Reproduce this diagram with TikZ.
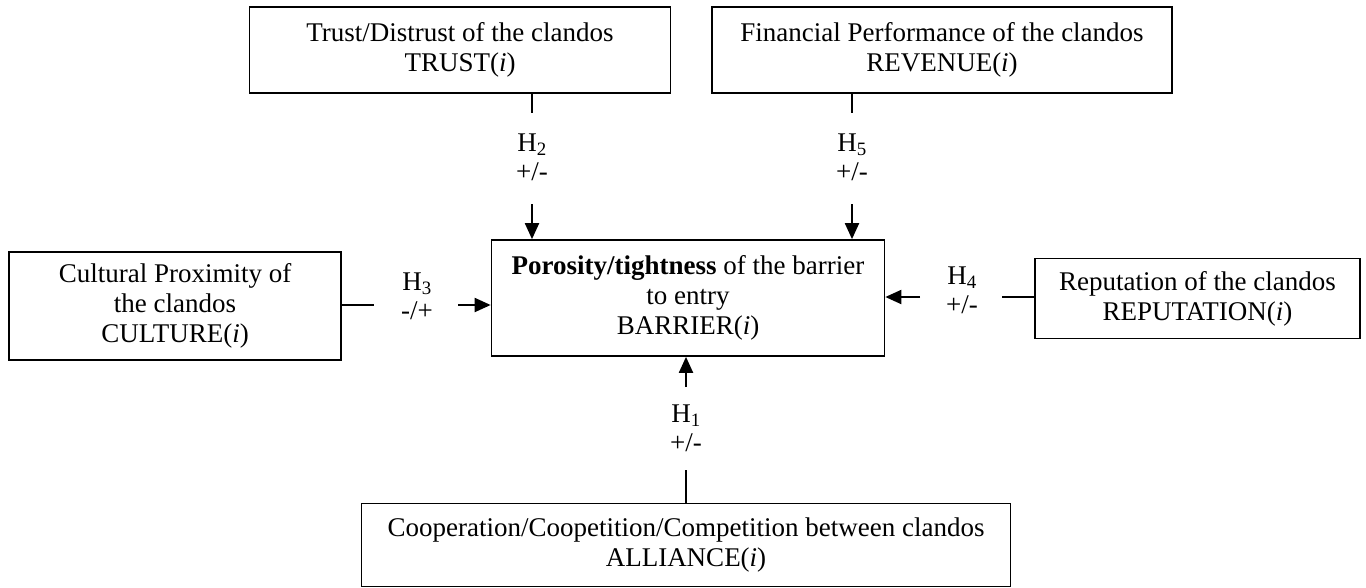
\documentclass[tikz,border=0pt]{standalone}
\usepackage{fontspec}
\setmainfont{Liberation Serif}
\usetikzlibrary{arrows.meta}
\begin{document}
\begin{tikzpicture}[x=1pt,y=-1pt,
  box/.style={draw,line width=1.7pt,align=center,inner sep=0pt,font=\fontsize{27}{30}\selectfont},
  lbl/.style={align=center,inner sep=0pt,font=\fontsize{27}{29}\selectfont},
  conn/.style={line width=2pt},
  arr/.style={line width=2pt,-{Triangle[length=16pt,width=14pt]}}]
\useasboundingbox (0,0) rectangle (1366,587);
% boxes
\node[box,minimum width=421pt,minimum height=86pt] (trust) at (460,50)
  {Trust/Distrust of the clandos\\TRUST(\textit{i})};
\node[box,minimum width=460pt,minimum height=86pt] (revenue) at (942,50)
  {Financial Performance of the clandos\\REVENUE(\textit{i})};
\node[box,minimum width=393pt,minimum height=116pt] (barrier) at (688,298)
  {\textbf{Porosity/tightness} of the barrier\\to entry\\BARRIER(\textit{i})};
\node[box,minimum width=332pt,minimum height=108pt] (culture) at (175,306)
  {Cultural Proximity of\\the clandos\\CULTURE(\textit{i})};
\node[box,minimum width=325pt,minimum height=80pt] (reputation) at (1197.5,298.5)
  {Reputation of the clandos\\REPUTATION(\textit{i})};
\node[box,minimum width=649pt,minimum height=83pt] (alliance) at (686,545)
  {Cooperation/Coopetition/Competition between clandos\\ALLIANCE(\textit{i})};
% H2
\coordinate (h2a) at (532,113);
\coordinate (h2b) at (532,204);
\draw[conn] (trust.south -| h2a) -- (h2a);
\node[lbl] (h2) at (532,157) {H\textsubscript{2}\\+/-};
\draw[arr] (h2b) -- (barrier.north -| h2b);
% H5
\coordinate (h5a) at (852,113);
\coordinate (h5b) at (852,204);
\draw[conn] (revenue.south -| h5a) -- (h5a);
\node[lbl] (h5) at (852,157) {H\textsubscript{5}\\+/-};
\draw[arr] (h5b) -- (barrier.north -| h5b);
% H3
\coordinate (h3a) at (374,305);
\coordinate (h3b) at (458,305);
\draw[conn] (culture.east |- h3a) -- (h3a);
\node[lbl] (h3) at (417,296) {H\textsubscript{3}\\-/+};
\draw[arr] (h3b) -- (barrier.west |- h3b);
% H4
\coordinate (h4a) at (1002,297);
\coordinate (h4b) at (920,297);
\draw[conn] (reputation.west |- h4a) -- (h4a);
\node[lbl] (h4) at (962,290) {H\textsubscript{4}\\+/-};
\draw[arr] (h4b) -- (barrier.east |- h4b);
% H1
\coordinate (h1a) at (686,470);
\coordinate (h1b) at (686,387);
\draw[conn] (alliance.north -| h1a) -- (h1a);
\node[lbl] (h1) at (686,428) {H\textsubscript{1}\\+/-};
\draw[arr] (h1b) -- (barrier.south -| h1b);
\end{tikzpicture}
\end{document}
